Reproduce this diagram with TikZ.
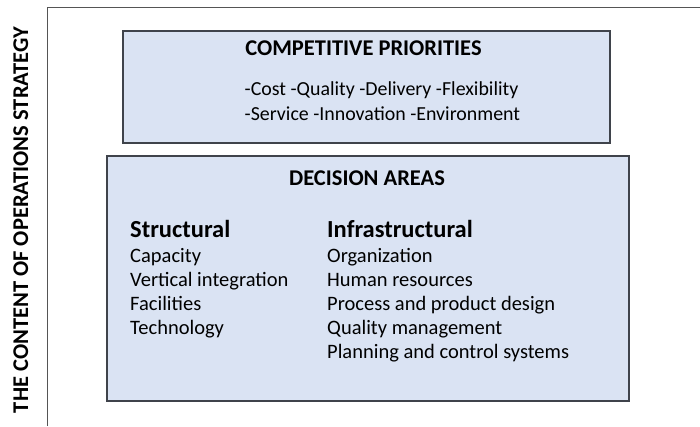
\documentclass[tikz,border=0pt]{standalone}
\usepackage{fontspec}
\setmainfont{Carlito}
\definecolor{panelfill}{HTML}{DAE3F3}
\definecolor{panelline}{HTML}{3F434B}
\definecolor{frameline}{HTML}{555555}
\begin{document}
\begin{tikzpicture}[x=1pt,y=-1pt,
  panel/.style={draw=panelline,fill=panelfill,line width=1.4pt},
  frame/.style={draw=frameline,line width=1pt},
  heading/.style={font=\fontsize{22.5}{26}\selectfont\bfseries,inner sep=0pt},
  subhead/.style={font=\fontsize{24.5}{28}\selectfont\bfseries,inner sep=0pt,anchor=base west},
  item/.style={font=\fontsize{20.5}{24}\selectfont,inner sep=0pt,anchor=base west},
  prio/.style={item,font=\fontsize{19.9}{24}\selectfont},
  sidetitle/.style={font=\fontsize{22.5}{26}\selectfont\bfseries,inner sep=0pt,rotate=90,anchor=base}]
  \useasboundingbox (0,0) rectangle (700,426);
  % outer frame (left and top edges)
  \coordinate (fbl) at (47,426);
  \coordinate (ftl) at (47,7);
  \coordinate (ftr) at (700,7);
  \draw[frame] (fbl) -- (ftl) -- (ftr);
  % side title
  \node[sidetitle] (side) at (28,220) {THE CONTENT OF OPERATIONS STRATEGY};
  % competitive priorities panel
  \draw[panel] (123,31) rectangle (610,143);
  \node[heading,anchor=base] (cp) at (363.5,55) {COMPETITIVE PRIORITIES};
  \node[prio] (cp1) at (244.5,95) {-Cost -Quality -Delivery -Flexibility};
  \node[prio] (cp2) at (244.5,120) {-Service -Innovation -Environment};
  % decision areas panel
  \draw[panel] (107,156) rectangle (629,401);
  \node[heading,anchor=base] (da) at (367,185) {DECISION AREAS};
  \node[subhead] (st) at (130,237) {Structural};
  \node[subhead] (inf) at (327,237) {Infrastructural};
  \node[item] (s1) at (130,262) {Capacity};
  \node[item] (s2) at (130,286) {Vertical integration};
  \node[item] (s3) at (130,310) {Facilities};
  \node[item] (s4) at (130,334) {Technology};
  \node[item] (i1) at (327,262) {Organization};
  \node[item] (i2) at (327,286) {Human resources};
  \node[item] (i3) at (327,310) {Process and product design};
  \node[item] (i4) at (327,334) {Quality management};
  \node[item] (i5) at (327,358) {Planning and control systems};
\end{tikzpicture}
\end{document}
